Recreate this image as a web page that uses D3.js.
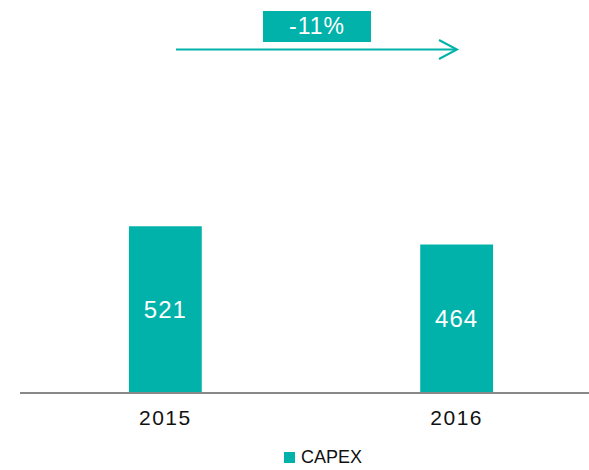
<!DOCTYPE html>
<html>
<head>
<meta charset="utf-8">
<script src="https://cdn.jsdelivr.net/npm/d3@7"></script>
<style>
  body { margin: 0; background: #fff; }
  svg { display: block; font-family: "Liberation Sans", Arial, sans-serif; }
</style>
</head>
<body>
<div id="chart"></div>
<script>
const categories = ["2015", "2016"];
const values = [521, 464];
const seriesName = "CAPEX";
const changeLabel = "-11%";

const width = 589, height = 470;
const teal = "#00b2a9";
const baseY = 393;

const svg = d3.select("#chart").append("svg")
  .attr("width", width)
  .attr("height", height);

const x = d3.scaleBand()
  .domain(categories)
  .range([20, 602])
  .paddingInner(0.75)
  .paddingOuter(0.374);

// 0.32 px per unit
const y = d3.scaleLinear().domain([0, 1228]).range([baseY, 0]);

const data = categories.map((c, i) => ({ cat: c, value: values[i] }));

// bars
svg.append("g").selectAll("rect")
  .data(data)
  .join("rect")
  .attr("x", d => x(d.cat))
  .attr("y", d => y(d.value))
  .attr("width", x.bandwidth())
  .attr("height", d => baseY - y(d.value))
  .attr("fill", teal);

// value labels
svg.append("g").selectAll("text")
  .data(data)
  .join("text")
  .attr("x", d => x(d.cat) + x.bandwidth() / 2)
  .attr("y", d => (y(d.value) + baseY) / 2 + 2)
  .attr("text-anchor", "middle")
  .attr("dominant-baseline", "middle")
  .attr("fill", "#fff")
  .attr("font-size", 24)
  .attr("letter-spacing", 1)
  .text(d => d.value);

// x axis
const xAxis = svg.append("g")
  .attr("transform", `translate(0,${baseY})`)
  .call(d3.axisBottom(x).tickSize(0).tickPadding(17));
xAxis.select(".domain").remove();
xAxis.selectAll("text")
  .attr("font-size", 21)
  .attr("font-family", "Liberation Sans, Arial, sans-serif")
  .attr("letter-spacing", 1.5)
  .attr("fill", "#111");
svg.append("line")
  .attr("x1", 20).attr("x2", width)
  .attr("y1", baseY).attr("y2", baseY)
  .attr("stroke", "#888")
  .attr("stroke-width", 2);

// change annotation
const ann = svg.append("g");
ann.append("rect")
  .attr("x", 263).attr("y", 11)
  .attr("width", 108).attr("height", 31)
  .attr("fill", teal);
ann.append("text")
  .attr("x", 317).attr("y", 28)
  .attr("text-anchor", "middle")
  .attr("dominant-baseline", "middle")
  .attr("fill", "#fff")
  .attr("font-size", 23)
  .attr("letter-spacing", 1)
  .text(changeLabel);
ann.append("line")
  .attr("x1", 176).attr("x2", 456)
  .attr("y1", 49.5).attr("y2", 49.5)
  .attr("stroke", teal).attr("stroke-width", 2);
ann.append("path")
  .attr("d", "M439,40 L457,49.5 L439,59")
  .attr("fill", "none")
  .attr("stroke", teal).attr("stroke-width", 2);

// legend
const lg = svg.append("g");
lg.append("rect")
  .attr("x", 284).attr("y", 452)
  .attr("width", 11).attr("height", 11)
  .attr("fill", teal);
lg.append("text")
  .attr("x", 301).attr("y", 458)
  .attr("dominant-baseline", "middle")
  .attr("font-size", 18)
  .attr("fill", "#111")
  .text(seriesName);
</script>
</body>
</html>
